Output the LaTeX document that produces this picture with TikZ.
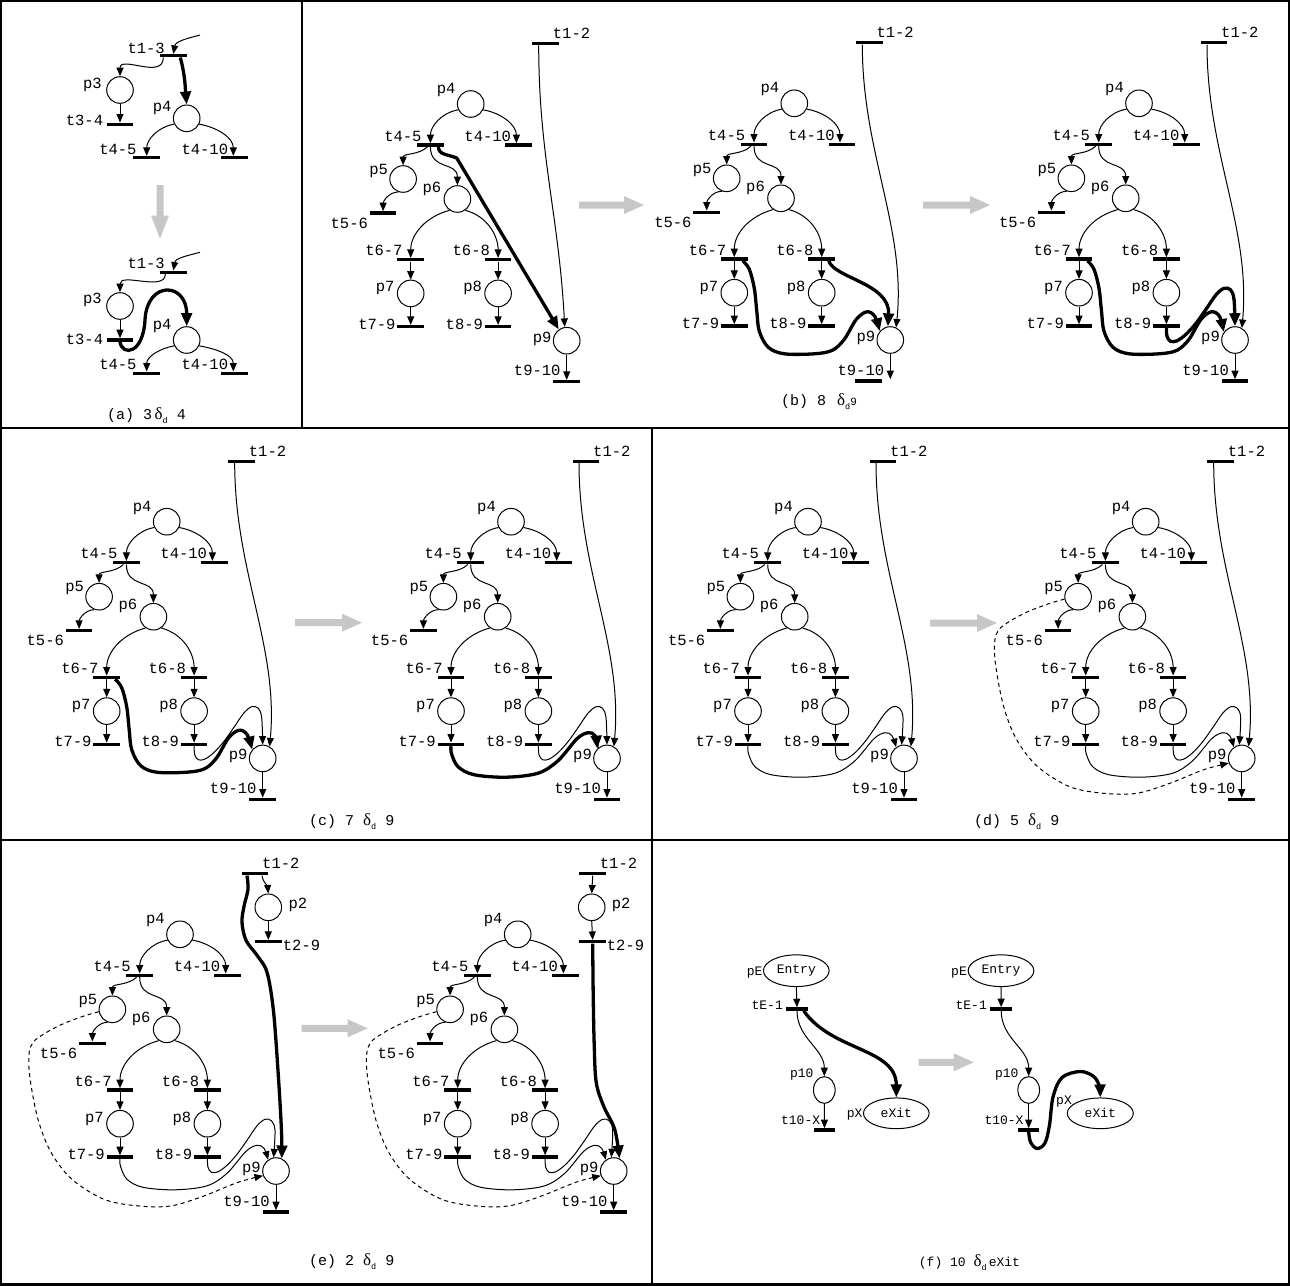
\documentclass[tikz,border=0pt]{standalone}
\usepackage{fontspec}
\newfontfamily\pnmono{Liberation Mono}
\newfontfamily\pngreek{Liberation Serif}
\usetikzlibrary{arrows.meta,shapes.geometric}
\tikzset{
 pnplace/.style={circle,draw,line width=1pt,minimum size=26.6pt,inner sep=0pt},
 pntrans/.style={rectangle,fill=black,draw=none,minimum width=26.6pt,minimum height=3.2pt,inner sep=0pt},
 pntransf/.style={pntrans,minimum width=21.5pt},
 pnlbl/.style={font=\pnmono\fontsize{15.5}{16}\selectfont,inner sep=0pt},
 pnlblf/.style={font=\pnmono\fontsize{13}{14}\selectfont,inner sep=0pt},
 pncap/.style={font=\pnmono\fontsize{15}{16}\selectfont,inner sep=0pt,anchor=base west},
 pncapf/.style={font=\pnmono\fontsize{13}{14}\selectfont,inner sep=0pt,anchor=base west},
 pnarc/.style={line width=1pt,-{Triangle[length=8.5pt,width=7pt]}},
 pnthick/.style={line width=3.3pt,-{Triangle[length=13pt,width=10.5pt]}},
 pndash/.style={pnarc,dash pattern=on 4pt off 3.5pt},
 pngray/.style={fill=black!22,draw=none},
 pnell/.style={ellipse,draw,line width=1pt,inner sep=0pt,font=\pnmono\fontsize{13}{14}\selectfont},
}
\newcommand{\pnD}{{\pngreek\fontsize{17}{17}\selectfont δ}\raisebox{-4pt}{\fontsize{8.5}{9}\selectfont d}}
\newcommand{\pnBase}[2]{%
 \node[pnplace] (#1p4) at (0,0) {};
 \node[pntrans] (#1t12) at (75,60.5) {};
 \node[pntrans] (#1t45) at (-40.3,-41) {};
 \node[pntrans] (#1t410) at (47.7,-41) {};
 \node[pnplace] (#1p5) at (-67.6,-75) {};
 \node[pntrans] (#1t56) at (-87.6,-109) {};
 \node[pnplace] (#1p6) at (-13.3,-95) {};
 \node[pntrans] (#1t67) at (-60,-155.7) {};
 \node[pntrans] (#1t68) at (27.4,-155.7) {};
 \node[pnplace] (#1p7) at (-60,-189.4) {};
 \node[pnplace] (#1p8) at (27.4,-189.4) {};
 \node[pntrans] (#1t79) at (-60,-222.7) {};
 \node[pntrans] (#1t89) at (27.4,-222.7) {};
 \node[pnplace] (#1p9) at (96,-236.7) {};
 \node[pntrans] (#1t910) at ({96+(#2)},-277.7) {};
 \node[pnlbl,anchor=base east] (#1Lp4) at (-15,10.4) {p4};
 \node[pnlbl,anchor=base west] (#1Lt12) at (82,65.5) {t1-2};
 \node[pnlbl,anchor=base east] (#1Lt45) at (-49,-37) {t4-5};
 \node[pnlbl,anchor=base east] (#1Lt410) at (40.5,-37) {t4-10};
 \node[pnlbl,anchor=base east] (#1Lp5) at (-82.6,-70) {p5};
 \node[pnlbl,anchor=base east] (#1Lt56) at (-102.6,-124) {t5-6};
 \node[pnlbl,anchor=base east] (#1Lp6) at (-29.3,-88) {p6};
 \node[pnlbl,anchor=base east] (#1Lt67) at (-68,-151.7) {t6-7};
 \node[pnlbl,anchor=base east] (#1Lt68) at (19.4,-151.7) {t6-8};
 \node[pnlbl,anchor=base east] (#1Lp7) at (-76,-187.7) {p7};
 \node[pnlbl,anchor=base east] (#1Lp8) at (11.4,-187.7) {p8};
 \node[pnlbl,anchor=base east] (#1Lt79) at (-75,-225) {t7-9};
 \node[pnlbl,anchor=base east] (#1Lt89) at (12.4,-225) {t8-9};
 \node[pnlbl,anchor=base east] (#1Lp9) at (81,-238) {p9};
 \node[pnlbl,anchor=base east] (#1Lt910) at (90,-271.7) {t9-10};
 \draw[pnarc] (#1p4.205) to[out=190,in=90] (#1t45.north);
 \draw[pnarc] (#1p4.-25) to[out=-10,in=90] ([xshift=-2pt]#1t410.north);
 \coordinate (#1s45) at ([xshift=-3pt]#1t45.south);
 \draw[pnarc] (#1s45) to[out=-135,in=90] (#1p5.north);
 \draw[pnarc] (#1t45.south) to[out=-90,in=90,looseness=1.3] (#1p6.north);
 \draw[pnarc] (#1p5.250) to[out=180,in=90] (#1t56.north);
 \draw[pnarc] (#1p6.235) to[out=195,in=90] (#1t67.north);
 \draw[pnarc] (#1p6.305) to[out=-15,in=90] (#1t68.north);
 \draw[pnarc] (#1t67.south) -- (#1p7.north);
 \draw[pnarc] (#1t68.south) -- (#1p8.north);
 \draw[pnarc] (#1p7.south) -- (#1t79.north);
 \draw[pnarc] (#1p8.south) -- (#1t89.north);
 \draw[pnarc] (#1p9.south) -- (#1p9.south |- #1t910.north);
}
\newcommand{\pnTwelve}[2]{\coordinate (#1s12) at ([xshift=-7pt]#1t12.south);
 \draw[pnarc] (#1s12) .. controls (68,-50) and (112,-125) .. (#1p9.#2);}
\newcommand{\pnSwirl}[3]{\draw[#2] plot[smooth,tension=0.55] coordinates {(#1t89.south) (28,-233) (31.5,-238) (38,-237.5) (47,-231) (57,-220) (67,-206) (77,-191.5) (85,-185) (91.5,-186.5) (95,-196) (#1p9.#3)};}
\newcommand{\pnSevenHigh}[3]{\coordinate (#1s67) at ([xshift=8.5pt]#1t67.south);
 \draw[#2] plot[smooth,tension=0.55] coordinates {(#1s67) (-45,-166) (-40,-185) (-37.5,-208) (-35,-228) (-26,-244) (-10,-250.5) (20,-250.5) (38,-247) (50,-236) (62,-216) (72.5,-208.5) (80.5,-213) (#1p9.#3)};}
\newcommand{\pnSevenLow}[3]{\draw[#2] plot[smooth,tension=0.55] coordinates {(#1t79.south) (-59.5,-232) (-53,-245) (-37,-253) (-5,-255.5) (27,-251.5) (47,-239) (66,-217) (77,-211) (84,-214) (#1p9.#3)};}
\newcommand{\pnDash}[1]{\draw[pndash] plot[smooth,tension=0.55] coordinates {(#1p5.190) (-97,-82) (-118,-90) (-135,-99) (-147,-108) (-151,-120) (-150,-144) (-142,-185) (-129,-218) (-108,-245) (-76,-265) (-42,-271.6) (-9,-271.6) (24,-261.6) (58,-248) (#1p9.200)};}
\newcommand{\pnGrayH}[3]{\fill[pngray] (#1,{-(#2)+3.5}) -- ({#1+#3-20},{-(#2)+3.5}) -- ({#1+#3-20},{-(#2)+9}) -- ({#1+#3},{-(#2)}) -- ({#1+#3-20},{-(#2)-9}) -- ({#1+#3-20},{-(#2)-3.5}) -- (#1,{-(#2)-3.5}) -- cycle;}
\begin{document}
\begin{tikzpicture}[x=1pt,y=1pt]
\useasboundingbox (0,0) rectangle (1290,-1285);
% frames
\draw[line width=4pt] (0,0) rectangle (1290,-1285);
\draw[line width=1.3pt] (0,-428) -- (1290,-428);
\draw[line width=1.3pt] (302,0) -- (302,-428);
\draw[line width=1.3pt] (652,-428) -- (652,-1285);
\draw[line width=1.3pt] (0,-840) -- (1290,-840);

% ===== panel (a) top
\node[pntrans] (aat13) at (173.3,-55.7) {};
\node[pnplace] (aap3) at (120,-90) {};
\node[pntrans] (aat34) at (120,-124.3) {};
\node[pnplace] (aap4) at (186.7,-118.3) {};
\node[pntrans] (aat45) at (146.7,-157.7) {};
\node[pntrans] (aat410) at (234.3,-157.7) {};
\coordinate (aain) at (200,-35);
\node[pnlbl,anchor=base east] (aaLt13) at (165,-53) {t1-3};
\node[pnlbl,anchor=base east] (aaLp3) at (102,-88) {p3};
\node[pnlbl,anchor=base east] (aaLt34) at (103.3,-125.7) {t3-4};
\node[pnlbl,anchor=base east] (aaLp4) at (171.7,-111.3) {p4};
\node[pnlbl,anchor=base east] (aaLt45) at (136.7,-154) {t4-5};
\node[pnlbl,anchor=base east] (aaLt410) at (228.3,-154) {t4-10};
\draw[pnarc] (aain) to[out=195,in=80] (aat13.north);
\coordinate (aas13l) at ([xshift=-10pt]aat13.south);
\draw[pnarc] (aas13l) .. controls (163.3,-80) and (120,-55) .. (aap3.north);
\coordinate (aas13r) at ([xshift=7pt]aat13.south);
\draw[pnthick] (aas13r) to[out=-75,in=95] (aap4.north);
\draw[pnarc] (aap3.south) -- (aat34.north);
\draw[pnarc] (aap4.205) to[out=190,in=90] (aat45.north);
\draw[pnarc] (aap4.-25) to[out=-10,in=90] ([xshift=-1pt]aat410.north);
% gray arrow down
\fill[pngray] (156.5,-185) -- (163.5,-185) -- (163.5,-215.5) -- (169,-215.5) -- (160,-238.5) -- (151,-215.5) -- (156.5,-215.5) -- cycle;
% ===== panel (a) bottom
\node[pntrans] (abt13) at (173.3,-272.3) {};
\node[pnplace] (abp3) at (120,-306) {};
\node[pntrans] (abt34) at (120,-340) {};
\node[pnplace] (abp4) at (186.7,-340) {};
\node[pntrans] (abt45) at (146.7,-373.3) {};
\node[pntrans] (abt410) at (234.3,-373.3) {};
\coordinate (abin) at (200,-252.3);
\node[pnlbl,anchor=base east] (abLt13) at (165,-268.3) {t1-3};
\node[pnlbl,anchor=base east] (abLp3) at (102,-303) {p3};
\node[pnlbl,anchor=base east] (abLt34) at (103.3,-344) {t3-4};
\node[pnlbl,anchor=base east] (abLp4) at (171.7,-329.7) {p4};
\node[pnlbl,anchor=base east] (abLt45) at (136.7,-369.3) {t4-5};
\node[pnlbl,anchor=base east] (abLt410) at (228.3,-369.3) {t4-10};
\draw[pnarc] (abin) to[out=195,in=80] (abt13.north);
\coordinate (abs13l) at ([xshift=-8pt]abt13.south);
\draw[pnarc] (abs13l) .. controls (165.3,-292) and (120,-272) .. (abp3.north);
\draw[pnarc] (abp3.south) -- (abt34.north);
\draw[pnthick] (abt34.south) .. controls (122,-356) and (143,-355) .. (145,-320) .. controls (147,-280) and (186.7,-282) .. (abp4.north);
\draw[pnarc] (abp4.205) to[out=190,in=90] (abt45.north);
\draw[pnarc] (abp4.-25) to[out=-10,in=90] ([xshift=-1pt]abt410.north);
\node[pncap] (capa) at (107,-419.5) {(a) 3\,\pnD\ 4};

% ===== panel (b)
\begin{scope}[shift={(470.7,-104)}]
 \pnBase{ba}{0}
 \draw[pnarc] ([xshift=-7pt]bat12.south) to[out=-90,in=93] ([xshift=-2pt]bap9.north);
 \coordinate (bas45) at ([xshift=8pt]bat45.south);
 \draw[pnthick] (bas45) .. controls (-32,-51) and (-24,-50) .. (-14,-54) -- (bap9.125);
\end{scope}
\pnGrayH{579}{205}{65}
\begin{scope}[shift={(794.3,-103.3)}]
 \pnBase{bb}{-22}
 \pnTwelve{bb}{65}
 \coordinate (bbs68) at ([xshift=7pt]bbt68.south);
 \draw[pnthick] (bbs68) .. controls (40,-175) and (96,-180) .. (bbp9.100);
 \pnSevenHigh{bb}{pnthick}{140}
\end{scope}
\pnGrayH{923}{205}{67}
\begin{scope}[shift={(1139,-103.3)}]
 \pnBase{bc}{0}
 \pnTwelve{bc}{60}
 \pnSwirl{bc}{pnthick}{north}
 \pnSevenHigh{bc}{pnthick}{145}
\end{scope}
\node[pncap] (capb) at (781,-405.5) {(b) 8\hspace{11pt}\pnD{\fontsize{11}{11}\selectfont 9}};

% ===== panel (c)
\begin{scope}[shift={(166.7,-521.7)}]
 \pnBase{ca}{0}
 \pnTwelve{ca}{60}
 \pnSwirl{ca}{pnarc}{north}
 \pnSevenHigh{ca}{pnthick}{140}
\end{scope}
\pnGrayH{295}{622.7}{67}
\begin{scope}[shift={(511,-521.7)}]
 \pnBase{cb}{0}
 \pnTwelve{cb}{60}
 \pnSwirl{cb}{pnarc}{north}
 \pnSevenLow{cb}{pnthick}{135}
\end{scope}
\node[pncap] (capc) at (309,-825) {(c) 7 \pnD\ 9};

% ===== panel (d)
\begin{scope}[shift={(808,-521.7)}]
 \pnBase{da}{0}
 \pnTwelve{da}{60}
 \pnSwirl{da}{pnarc}{100}
 \pnSevenLow{da}{pnarc}{125}
\end{scope}
\pnGrayH{930}{623}{67}
\begin{scope}[shift={(1145.7,-521.7)}]
 \pnBase{db}{0}
 \pnTwelve{db}{60}
 \pnSwirl{db}{pnarc}{100}
 \pnSevenLow{db}{pnarc}{125}
 \pnDash{db}
\end{scope}
\node[pncap] (capd) at (974,-825) {(d) 5 \pnD\ 9};

% ===== panel (e)
\begin{scope}[shift={(180,-934.3)}]
 \pnBase{ea}{0}
 \node[pnplace] (eap2) at (88.3,27) {};
 \node[pntrans] (eat29) at (88.3,-7.4) {};
 \node[pnlbl,anchor=base west] (eaLp2) at (108.3,26.3) {p2};
 \node[pnlbl,anchor=base west] (eaLt29) at (102.7,-15.7) {t2-9};
 \coordinate (eas12r) at ([xshift=7pt]eat12.south);
 \draw[pnarc] (eas12r) to[out=-80,in=95] (eap2.north);
 \draw[pnarc] (eap2.south) -- (eat29.north);
 \coordinate (eas12l) at ([xshift=-8pt]eat12.south);
 \draw[pnthick] plot[smooth,tension=0.55] coordinates {(eas12l) (68,45) (64,28) (62,12) (66,-6) (77,-21) (87,-38) (93.5,-77) (98.5,-144) (101.5,-197) (eap9.65)};
 \pnSwirl{ea}{pnarc}{100}
 \pnSevenLow{ea}{pnarc}{125}
 \pnDash{ea}
\end{scope}
\pnGrayH{301.7}{1028.3}{66}
\begin{scope}[shift={(517.7,-934.3)}]
 \pnBase{eb}{0}
 \node[pnplace] (ebp2) at (74,27) {};
 \node[pntrans] (ebt29) at (75,-7.4) {};
 \node[pnlbl,anchor=base west] (ebLp2) at (94,26.3) {p2};
 \node[pnlbl,anchor=base west] (ebLt29) at (89,-15.7) {t2-9};
 \draw[pnarc] (ebt12.south) -- (ebp2.north);
 \draw[pnarc] (ebp2.south) -- (ebt29.north);
 \draw[pnthick] plot[smooth,tension=0.55] coordinates {(ebt29.south) (75.5,-60) (76.5,-110) (78.5,-148) (86,-172) (97,-195) (ebp9.65)};
 \pnSwirl{eb}{pnarc}{100}
 \pnSevenLow{eb}{pnarc}{125}
 \pnDash{eb}
\end{scope}
\node[pncap] (cape) at (309,-1265) {(e) 2 \pnD\ 9};

% ===== panel (f)
\node[pnell,minimum width=65.7pt,minimum height=31.7pt] (fapE) at (796.3,-970.7) {Entry};
\node[pntransf] (fatE1) at (797,-1009) {};
\node[pnell,minimum width=21.7pt,minimum height=26.7pt] (fap10) at (824.3,-1090) {};
\node[pntransf] (fat10X) at (824.5,-1130) {};
\node[pnell,minimum width=65.7pt,minimum height=30.7pt] (fapX) at (896.3,-1113.3) {eXit};
\node[pnlblf,anchor=base east] (faLpE) at (762.7,-975.2) {pE};
\node[pnlblf,anchor=base east] (faLtE1) at (783,-1009.5) {tE-1};
\node[pnlblf,anchor=base east] (faLp10) at (813.7,-1077) {p10};
\node[pnlblf,anchor=base east] (faLt10X) at (820.3,-1124.5) {t10-X};
\node[pnlblf,anchor=base east] (faLpX) at (862.7,-1117) {pX};
\draw[pnarc] (fapE.south) -- (fatE1.north);
\draw[pnarc] (fatE1.south) to[out=-90,in=90] (fap10.north);
\draw[pnarc] (fap10.south) -- (fat10X.north);
\coordinate (fasE) at ([xshift=6.7pt]fatE1.south);
\draw[pnthick] (fasE) to[out=-55,in=90] (fapX.north);
\pnGrayH{918.7}{1062.3}{55}
\node[pnell,minimum width=65.7pt,minimum height=31.7pt] (fbpE) at (1001,-970.7) {Entry};
\node[pntransf] (fbtE1) at (1001.2,-1009) {};
\node[pnell,minimum width=21.7pt,minimum height=26.7pt] (fbp10) at (1028.7,-1090) {};
\node[pntransf] (fbt10X) at (1028.7,-1130) {};
\node[pnell,minimum width=66pt,minimum height=30.7pt] (fbpX) at (1100.3,-1113.3) {eXit};
\node[pnlblf,anchor=base east] (fbLpE) at (967,-975.2) {pE};
\node[pnlblf,anchor=base east] (fbLtE1) at (987,-1009.5) {tE-1};
\node[pnlblf,anchor=base east] (fbLp10) at (1018.7,-1077) {p10};
\node[pnlblf,anchor=base east] (fbLt10X) at (1023.7,-1124.5) {t10-X};
\node[pnlblf,anchor=base east] (fbLpX) at (1072,-1104.2) {pX};
\draw[pnarc] (fbpE.south) -- (fbtE1.north);
\draw[pnarc] (fbtE1.south) to[out=-90,in=90] (fbp10.north);
\draw[pnarc] (fbp10.south) -- (fbt10X.north);
\draw[pnthick] plot[smooth,tension=0.55] coordinates {(fbt10X.south) (1030.5,-1142) (1037,-1148.5) (1045,-1143) (1049.5,-1125) (1053,-1097) (1062,-1077.5) (1080,-1071.5) (1093,-1076) (1099,-1085) (fbpX.north)};
\node[pncapf] (capf) at (918.7,-1266) {(f) 10 \pnD\,eXit};
\end{tikzpicture}
\end{document}
